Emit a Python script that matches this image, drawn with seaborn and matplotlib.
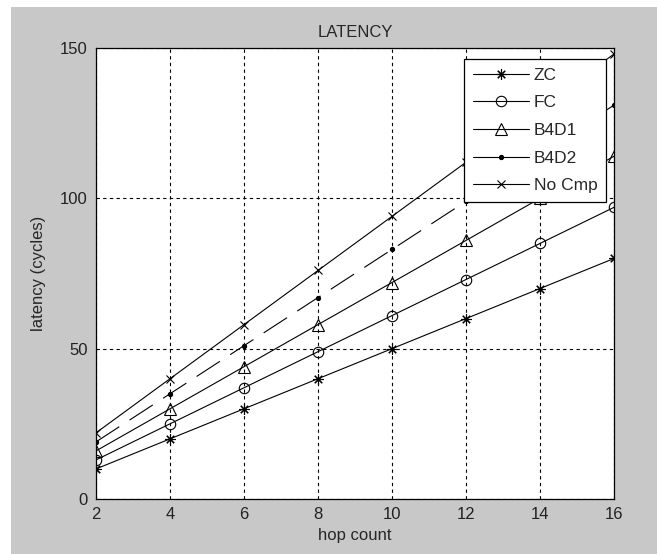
import numpy as np
import pandas as pd
import matplotlib
matplotlib.use('Agg')
import matplotlib.pyplot as plt
from matplotlib.lines import Line2D
from matplotlib.patches import Rectangle
import seaborn as sns

# data
hops = [2, 4, 6, 8, 10, 12, 14, 16]
zc = [10, 20, 30, 40, 50, 60, 70, 80]
fc = [13, 25, 37, 49, 61, 73, 85, 97]
b4d1 = [16, 30, 44, 58, 72, 86, 100, 114]
b4d2 = [19, 35, 51, 67, 83, 99, 115, 131]
no_cmp = [22, 40, 58, 76, 94, 112, 130, 148]

series_names = ['ZC', 'FC', 'B4D1', 'B4D2', 'No Cmp']
series_vals = [zc, fc, b4d1, b4d2, no_cmp]

sns.set_style('white')
plt.rcParams['font.family'] = ['Liberation Sans', 'DejaVu Sans']
plt.rcParams['font.size'] = 12

fig = plt.figure(figsize=(6.57, 5.54), dpi=100, facecolor='white')
# grey panel like the matlab window (white strip at top/left)
fig.patches.append(Rectangle((11 / 657, 0), 1, (554 - 7) / 554, transform=fig.transFigure,
                             facecolor='#c8c8c8', edgecolor='none', zorder=-10))
ax = fig.add_axes([96 / 657, 55 / 554, 518 / 657, 451 / 554])
ax.set_facecolor('white')

styles = {
    'ZC': dict(marker=(8, 2, 0), markersize=7.5, linestyle='-'),
    'FC': dict(marker='o', markersize=7.5, markerfacecolor='none', linestyle='-'),
    'B4D1': dict(marker='^', markersize=8, markerfacecolor='none', linestyle='-'),
    'B4D2': dict(marker='.', markersize=6, linestyle=(0, (25, 11))),
    'No Cmp': dict(marker='x', markersize=5.5, linestyle='-'),
}

handles = []
for name, vals in zip(series_names, series_vals):
    st = styles[name]
    sns.lineplot(x=hops, y=vals, ax=ax, color='black', linewidth=0.8,
                 markeredgecolor='black', markeredgewidth=0.8, **st)
    hst = dict(st)
    hst['linestyle'] = '-'
    handles.append(Line2D([], [], color='black', linewidth=0.8,
                          markeredgecolor='black', markeredgewidth=0.8, **hst))

ax.set_xlim(2, 16)
ax.set_ylim(0, 150)
ax.set_xticks(hops)
ax.set_yticks([0, 50, 100, 150])
ax.grid(True, color='black', linestyle=(0, (3, 3)), linewidth=0.8)
for sp in ax.spines.values():
    sp.set_color('black')
    sp.set_linewidth(0.9)
    sp.set_visible(True)
ax.tick_params(direction='in', length=0, pad=6, labelsize=12, colors='#222222')

ax.set_title('LATENCY', fontsize=12, pad=8)
ax.set_xlabel('hop count', fontsize=12, labelpad=4)
ax.set_ylabel('latency (cycles)', fontsize=12, labelpad=10)

leg = ax.legend(handles, series_names, loc='upper right', bbox_to_anchor=(0.985, 0.976),
                borderaxespad=0, fancybox=False, framealpha=1, edgecolor='black',
                fontsize=12.5, handlelength=3.2, labelspacing=0.72, handletextpad=0.3,
                borderpad=0.5)
leg.get_frame().set_linewidth(0.9)

fig.savefig('out.png', dpi=100, facecolor=fig.get_facecolor())
